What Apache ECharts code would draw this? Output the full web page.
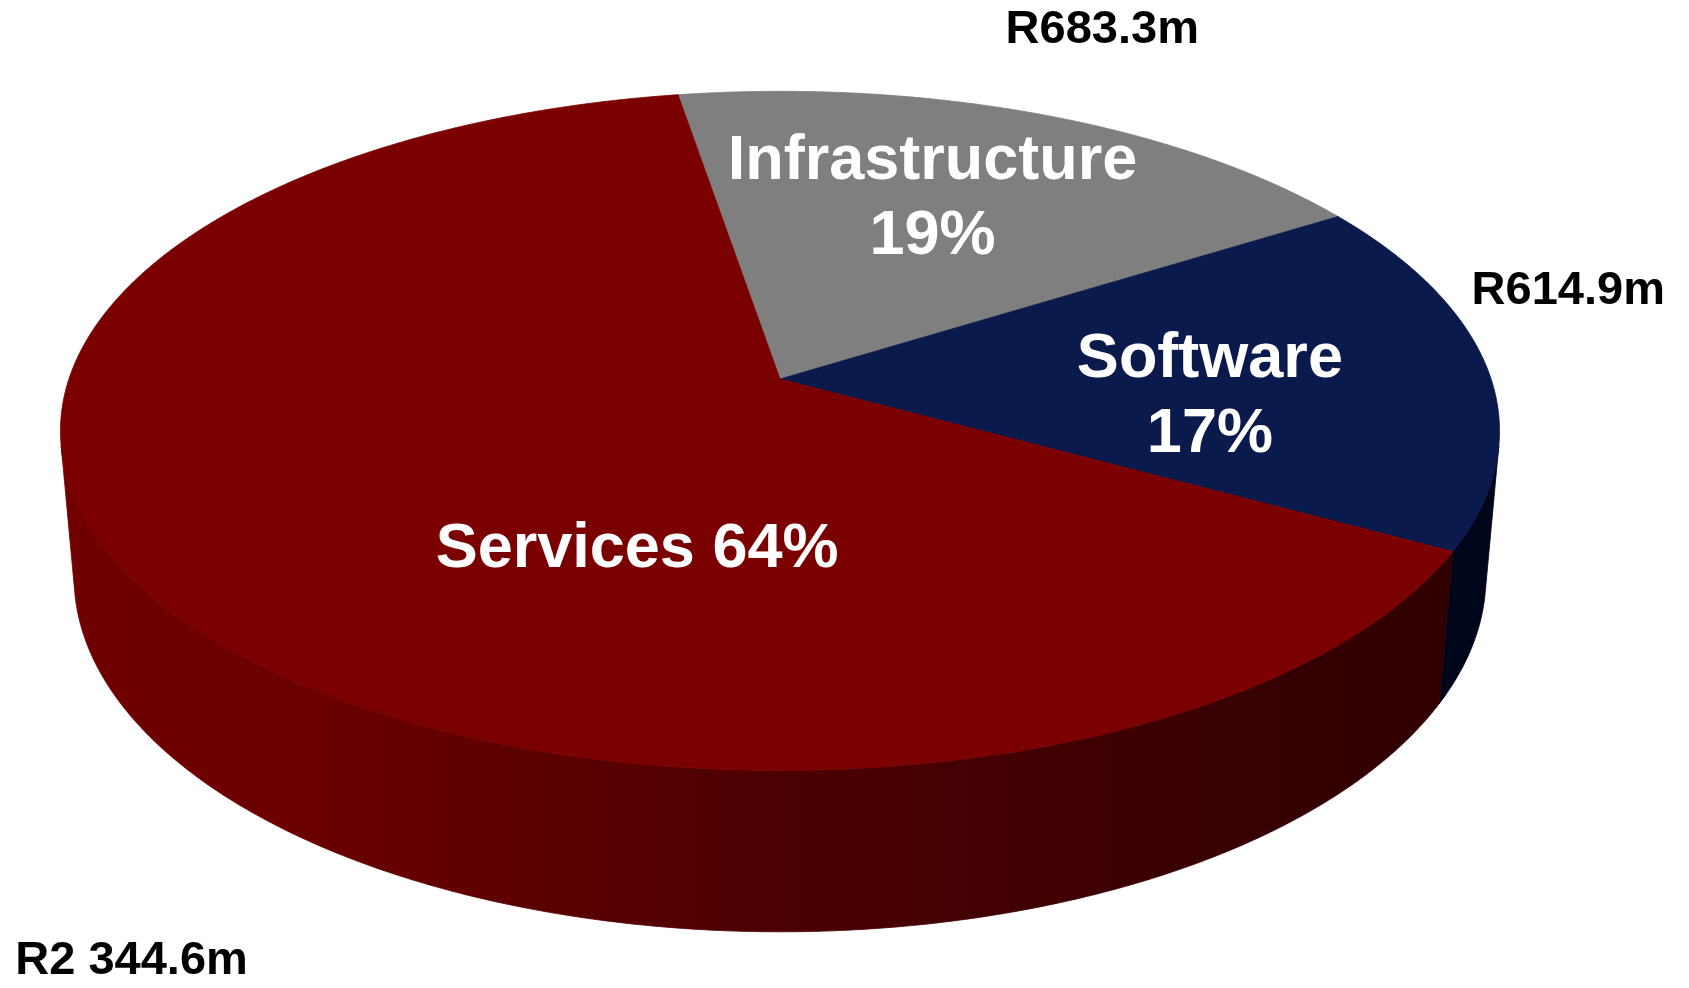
<!DOCTYPE html>
<html>
<head>
<meta charset="utf-8">
<script src="https://cdn.jsdelivr.net/npm/echarts@6/dist/echarts.min.js"></script>
<style>
  html, body { margin: 0; padding: 0; background: #ffffff; }
  #chart { width: 1689px; height: 988px; }
</style>
</head>
<body>
<div id="chart"></div>
<script>
// Revenue split by segment (R million)
const categories = ['Infrastructure', 'Software', 'Services'];
const revenue = [683.3, 614.9, 2344.6];

// Face colours per segment
const topColors = ['#7f7f7f', '#0a1a4c', '#7b0000'];
const sideStops = [
  null,
  [{ offset: 0, color: '#000c2c' }, { offset: 1, color: '#00061a' }],
  [
    { offset: 0, color: '#710000' },
    { offset: 0.17, color: '#6b0000' },
    { offset: 0.52, color: '#4a0002' },
    { offset: 0.87, color: '#350002' },
    { offset: 1, color: '#2e0000' }
  ]
];

// Label placement on the disc: angle clockwise from the far point (deg), radius, two-line flag
const insideLabelPos = [[21.6, 0.635, true], [95.2, 0.602, true], [201.3, 0.513, false]];
// Value labels: angle, radius, level, text alignment
const outsideLabelPos = [[23.3, 1.365, 'top', 'center'], [74.7, 1.051, 'top', 'left'], [216.4, 1.317, 'bottom', 'center']];

// Perspective camera for the tilted disc
const VIEW = {
  cx: 780, cy: 379, focal: 4120, dist: 5.794,
  tilt: 27.8 * Math.PI / 180, depth: 0.234, startAngle: -9.5
};
const cosT = Math.cos(VIEW.tilt), sinT = Math.sin(VIEW.tilt);

function project(alphaDeg, r, level) {
  const a = alphaDeg * Math.PI / 180;
  const x = r * Math.sin(a);
  const z = -r * Math.cos(a);
  const y = level === 'bottom' ? -VIEW.depth : 0;
  const v = y * cosT - z * sinT;
  const d = VIEW.dist - z * cosT - y * sinT;
  return [VIEW.cx + VIEW.focal * x / d, VIEW.cy - VIEW.focal * v / d];
}

function rim(a0, a1, level) {
  const pts = [];
  const n = Math.max(2, Math.ceil(Math.abs(a1 - a0) / 0.5));
  for (let k = 0; k <= n; k++) pts.push(project(a0 + (a1 - a0) * k / n, 1, level));
  return pts;
}

const total = revenue.reduce((s, v) => s + v, 0);
function rand(v) {
  const parts = v.toFixed(1).split('.');
  return 'R' + parts[0].replace(/\B(?=(\d{3})+(?!\d))/g, ' ') + '.' + parts[1] + 'm';
}

// outer wall faces the camera only inside this angular window
const wallLimit = Math.acos(-1 / (VIEW.dist * cosT)) * 180 / Math.PI;
const FONT = '"Liberation Sans", Arial, Helvetica, sans-serif';

function renderItem(params, api) {
  const i = params.dataIndex;
  let a0 = VIEW.startAngle;
  for (let k = 0; k < i; k++) a0 += revenue[k] / total * 360;
  const a1 = a0 + api.value(0) / total * 360;
  const children = [];

  // top face
  const apex = project(0, 0, 'top');
  children.push({
    type: 'polygon', z2: 10,
    shape: { points: [apex].concat(rim(a0, a1, 'top')) },
    style: { fill: topColors[i], stroke: topColors[i], lineWidth: 0.8 }
  });

  // outer wall
  const s0 = Math.max(a0, wallLimit), s1 = Math.min(a1, 360 - wallLimit);
  if (s1 > s0 && sideStops[i]) {
    const grad = new echarts.graphic.LinearGradient(60, 0, 1500, 0, sideStops[i], true);
    const pts = rim(s0, s1, 'top').concat(rim(s1, s0, 'bottom'));
    children.push({
      type: 'polygon', z2: 1,
      shape: { points: pts },
      style: { fill: grad, stroke: grad, lineWidth: 0.8 }
    });
  }

  // labels
  const pct = Math.round(api.value(0) / total * 100) + '%';
  const il = insideLabelPos[i];
  const ip = project(il[0], il[1], 'top');
  children.push({
    type: 'text', z2: 30, x: ip[0], y: ip[1],
    style: {
      text: categories[i] + (il[2] ? '\n' : ' ') + pct,
      fill: '#ffffff', fontSize: 63, fontWeight: 'bold', fontFamily: FONT,
      lineHeight: 75, align: 'center', verticalAlign: 'middle'
    }
  });
  const ol = outsideLabelPos[i];
  const op = project(ol[0], ol[1], ol[2]);
  children.push({
    type: 'text', z2: 30, x: op[0], y: op[1],
    style: {
      text: rand(api.value(0)),
      fill: '#000000', fontSize: 47, fontWeight: 'bold', fontFamily: FONT,
      align: ol[3], verticalAlign: 'middle'
    }
  });

  return { type: 'group', children: children };
}

const chart = echarts.init(document.getElementById('chart'), null, { renderer: 'canvas' });
chart.setOption({
  backgroundColor: '#ffffff',
  animation: false,
  series: [{
    type: 'custom',
    coordinateSystem: 'none',
    renderItem: renderItem,
    data: revenue.map((v, k) => ({ name: categories[k], value: [v] }))
  }]
});
</script>
</body>
</html>
